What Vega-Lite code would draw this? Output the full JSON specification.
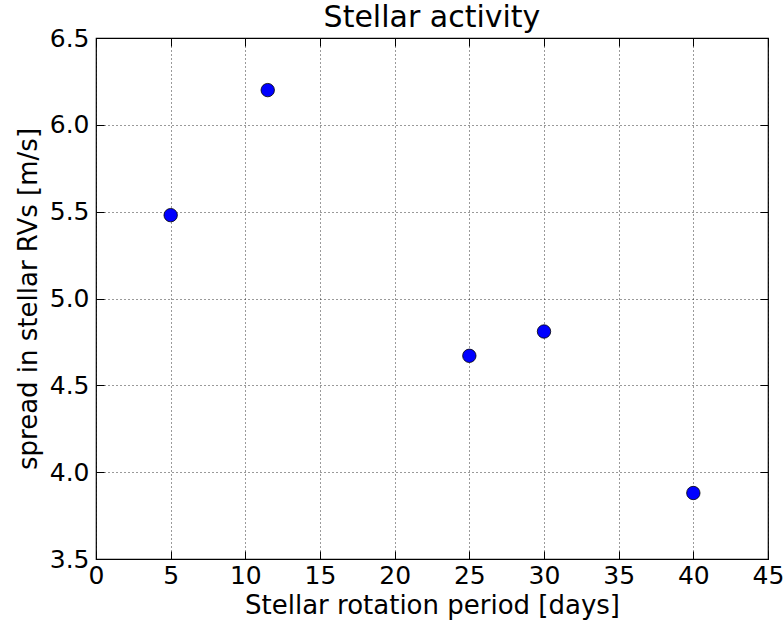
{
  "$schema": "https://vega.github.io/schema/vega-lite/v6.json",
  "width": 672,
  "height": 521,
  "autosize": {"type": "none"},
  "padding": {"left": 96, "top": 38, "right": 16, "bottom": 67},
  "background": "white",
  "config": {
    "font": "DejaVu Sans",
    "view": {"stroke": "black", "strokeWidth": 1.2},
    "axis": {
      "domain": false,
      "tickColor": "black",
      "tickSize": -8,
      "tickWidth": 1,
      "labelColor": "black",
      "labelFontSize": 25,
      "titleFontSize": 26,
      "titleFontWeight": "normal",
      "titleColor": "black"
    }
  },
  "title": {
    "text": "Stellar activity",
    "fontSize": 30,
    "fontWeight": "normal",
    "font": "DejaVu Sans",
    "color": "black",
    "offset": -7
  },
  "data": {
    "values": [
      {"period": 5, "spread": 5.48},
      {"period": 11.5, "spread": 6.2},
      {"period": 25, "spread": 4.67},
      {"period": 30, "spread": 4.81},
      {"period": 40, "spread": 3.88}
    ]
  },
  "resolve": {"axis": {"x": "independent", "y": "independent"}},
  "layer": [
    {
      "mark": {"type": "point", "filled": true, "shape": "circle", "size": 180, "color": "#0000ff", "stroke": "black", "strokeWidth": 0.8, "opacity": 1},
      "encoding": {
        "x": {
          "field": "period",
          "type": "quantitative",
          "scale": {"domain": [0, 45], "nice": false, "zero": false},
          "axis": {"title": "Stellar rotation period [days]", "values": [0, 5, 10, 15, 20, 25, 30, 35, 40, 45], "labelFlush": false, "labelPadding": 12, "titlePadding": 4, "grid": true, "gridColor": "black", "gridDash": [1, 3], "gridWidth": 0.8, "gridOpacity": 1}
        },
        "y": {
          "field": "spread",
          "type": "quantitative",
          "scale": {"domain": [3.5, 6.5], "nice": false, "zero": false},
          "axis": {"title": "spread in stellar RVs [m/s]", "values": [3.5, 4.0, 4.5, 5.0, 5.5, 6.0, 6.5], "format": ".1f", "labelFlush": false, "labelPadding": 15, "titlePadding": 8, "grid": true, "gridColor": "black", "gridDash": [1, 3], "gridWidth": 0.8, "gridOpacity": 1}
        }
      }
    },
    {
      "mark": {"type": "point", "opacity": 0},
      "encoding": {
        "x": {
          "field": "period",
          "type": "quantitative",
          "axis": {"orient": "top", "title": null, "labels": false, "grid": false, "values": [0, 5, 10, 15, 20, 25, 30, 35, 40, 45]}
        },
        "y": {
          "field": "spread",
          "type": "quantitative",
          "axis": {"orient": "right", "title": null, "labels": false, "grid": false, "values": [3.5, 4.0, 4.5, 5.0, 5.5, 6.0, 6.5]}
        }
      }
    }
  ]
}
